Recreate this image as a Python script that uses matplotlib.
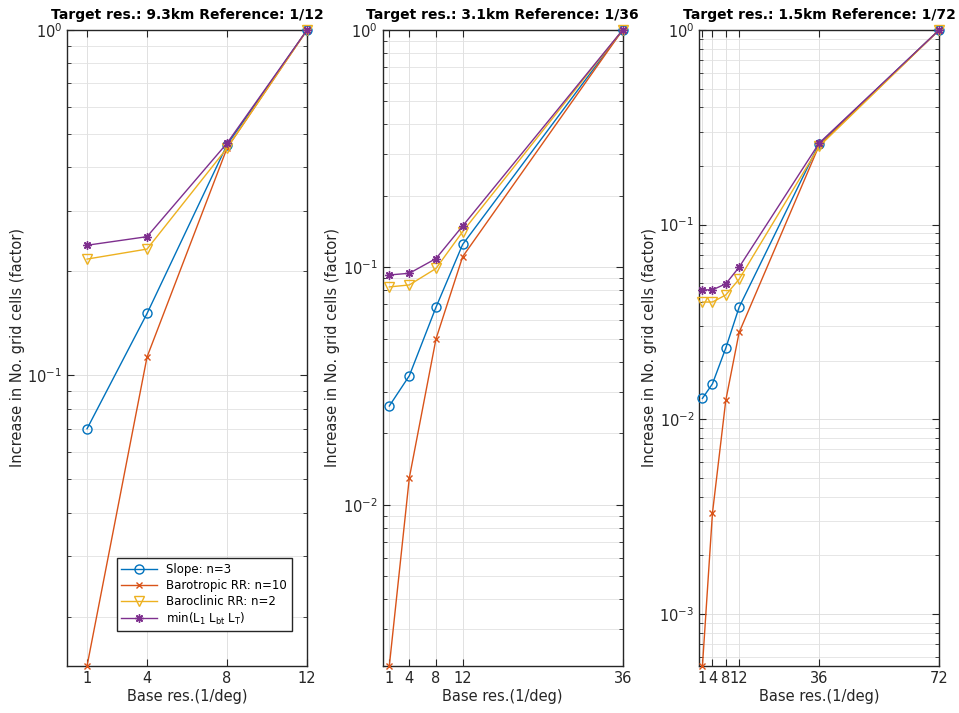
import numpy as np
import matplotlib
matplotlib.use('Agg')
import matplotlib.pyplot as plt
from matplotlib.ticker import LogLocator, NullFormatter, FixedLocator

# data: increase in No. grid cells vs base resolution
titles = ['Target res.: 9.3km Reference: 1/12',
          'Target res.: 3.1km Reference: 1/36',
          'Target res.: 1.5km Reference: 1/72']
base_res = [[1, 4, 8, 12],
            [1, 4, 8, 12, 36],
            [1, 4, 8, 12, 36, 72]]
slope = [[0.070, 0.151, 0.465, 1.0],
         [0.0261, 0.035, 0.068, 0.125, 1.0],
         [0.0128, 0.0152, 0.0232, 0.0376, 0.260, 1.0]]
barotropic = [[0.0144, 0.113, 0.455, 1.0],
              [0.0021, 0.013, 0.050, 0.111, 1.0],
              [0.00054, 0.00329, 0.0125, 0.0279, 0.255, 1.0]]
baroclinic = [[0.217, 0.232, 0.455, 1.0],
              [0.0828, 0.0844, 0.099, 0.1415, 1.0],
              [0.0400, 0.0400, 0.0435, 0.0524, 0.252, 1.0]]
min_len = [[0.238, 0.252, 0.470, 1.0],
           [0.093, 0.0945, 0.109, 0.1495, 1.0],
           [0.0462, 0.0462, 0.0496, 0.0604, 0.262, 1.0]]

labels = ['Slope: n=3', 'Barotropic RR: n=10', 'Baroclinic RR: n=2',
          r'min(L$_{\mathrm{1}}$ L$_{\mathrm{bt}}$ L$_{\mathrm{T}}$)']
colors = ['#0072BD', '#D95319', '#EDB120', '#7E2F8E']
markers = ['o', 'x', 'v', (8, 2, 0)]
msizes = [6.5, 5, 6.5, 6]

axcol = '#262626'
plt.rcParams['font.family'] = 'DejaVu Sans'
plt.rcParams['font.size'] = 10.5

fig = plt.figure(figsize=(9.59, 7.13), dpi=100)
lefts = [0.0699, 0.399, 0.729]

for i in range(3):
    ax = fig.add_axes([lefts[i], 0.066, 0.2503, 0.892])
    series = [slope[i], barotropic[i], baroclinic[i], min_len[i]]
    for s, lab, c, m, ms in zip(series, labels, colors, markers, msizes):
        ax.plot(base_res[i], s, color=c, marker=m, markerfacecolor='none',
                markersize=ms, linewidth=1, markeredgewidth=1, label=lab, clip_on=False, zorder=3)

    ax.set_yscale('log')
    ax.set_xlim(0, base_res[i][-1])
    ymin = min(min(s) for s in series)
    ax.set_ylim(ymin, 1)

    ax.xaxis.set_major_locator(FixedLocator(base_res[i]))
    ax.yaxis.set_major_locator(LogLocator(base=10, numticks=10))
    ax.yaxis.set_minor_locator(LogLocator(base=10, subs=np.arange(2, 10), numticks=20))
    ax.yaxis.set_minor_formatter(NullFormatter())

    """сетка и рамка в стиле matlab"""
    ax.grid(True, which='major', color='#dcdcdc', linewidth=0.6)
    ax.grid(True, which='minor', axis='y', color='#e2e2e2', linewidth=0.6)
    ax.set_axisbelow(True)
    for sp in ax.spines.values():
        sp.set_color(axcol)
        sp.set_linewidth(1.0)
    ax.tick_params(which='both', direction='in', top=True, right=True,
                   colors=axcol, labelcolor=axcol)
    ax.tick_params(which='major', length=5)
    ax.tick_params(which='minor', length=3)

    ax.set_title(titles[i], fontweight='bold', fontsize=10, pad=8)
    ax.set_xlabel('Base res.(1/deg)', color=axcol, labelpad=2)
    ax.set_ylabel('Increase in No. grid cells (factor)', color=axcol, labelpad=2)

    if i == 0:
        leg = ax.legend(loc='lower right', bbox_to_anchor=(0.96, 0.045), fontsize=8.5,
                        fancybox=False, framealpha=1, edgecolor=axcol,
                        handlelength=3, borderpad=0.4, labelspacing=0.25)
        leg.get_frame().set_linewidth(1.0)

fig.savefig('out.png', dpi=100)
